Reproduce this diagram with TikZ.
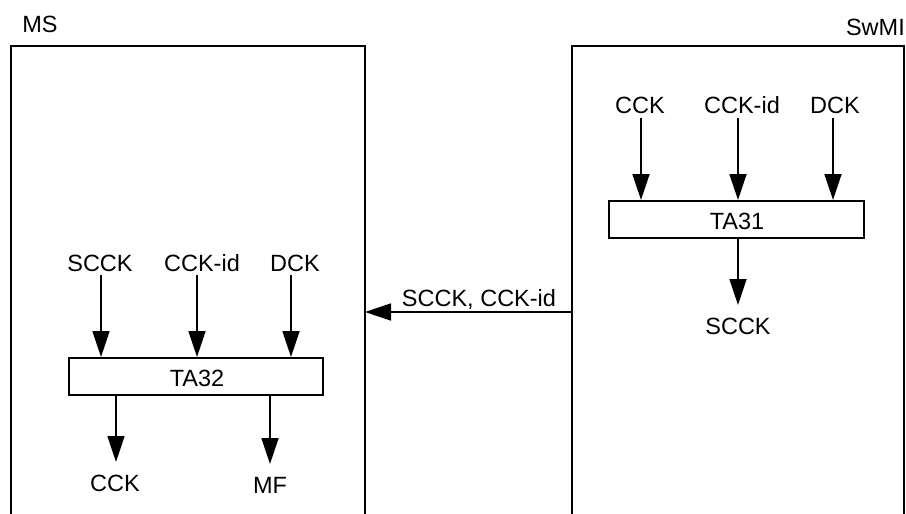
\documentclass[tikz,border=0pt]{standalone}
\usepackage{fontspec}
\setmainfont{Liberation Sans}
\usetikzlibrary{arrows.meta}
\begin{document}
\begin{tikzpicture}[x=1pt,y=-1pt,
  lbl/.style={font=\fontsize{23.5}{26}\selectfont, inner sep=0pt, anchor=base},
  tabox/.style={draw, line width=1.8pt, inner sep=0pt, anchor=north west,
    font=\fontsize{23.5}{26}\selectfont},
  flow/.style={line width=1.8pt, -{Triangle[width=17pt,length=26pt]}},
  frameline/.style={line width=1.8pt}]
\useasboundingbox (0,0) rectangle (906,514);

% frames (open at bottom)
\coordinate (msbl) at (11,516);
\coordinate (mstl) at (11,46);
\coordinate (mstr) at (365,46);
\coordinate (msbr) at (365,516);
\draw[frameline] (msbl) -- (mstl) -- (mstr) -- (msbr);
\coordinate (swbl) at (572,516);
\coordinate (swtl) at (572,46);
\coordinate (swtr) at (904,46);
\coordinate (swbr) at (904,516);
\draw[frameline] (swbl) -- (swtl) -- (swtr) -- (swbr);

\node[lbl] (ms) at (40,32) {MS};
\node[lbl, anchor=base east] (swmi) at (905,35) {SwMI};

% SwMI side
\node[tabox, minimum width=255pt, minimum height=37pt] (ta31) at (608,200) {};
\node[lbl] (ta31t) at (737,229) {TA31};
\node[lbl] (ccka) at (640,113) {CCK};
\node[lbl] (cckida) at (742,113) {CCK-id};
\node[lbl] (dcka) at (835,113) {DCK};
\coordinate (a1s) at (641,118);
\coordinate (a2s) at (738,118);
\coordinate (a3s) at (833,118);
\draw[flow] (a1s) -- (a1s |- ta31.north);
\draw[flow] (a2s) -- (a2s |- ta31.north);
\draw[flow] (a3s) -- (a3s |- ta31.north);
\node[lbl] (sccka) at (738,334) {SCCK};
\coordinate (a4e) at (738,305);
\draw[flow] (a4e |- ta31.south) -- (a4e);

% transfer arrow
\coordinate (trs) at (572,312);
\coordinate (tre) at (365,312);
\draw[flow] (trs) -- (tre);
\node[lbl] (trl) at (479,306) {SCCK, CCK-id};

% MS side
\node[tabox, minimum width=254pt, minimum height=37pt] (ta32) at (68,357) {};
\node[lbl] (ta32t) at (197,386) {TA32};
\node[lbl] (scckb) at (100,271) {SCCK};
\node[lbl] (cckidb) at (202,271) {CCK-id};
\node[lbl] (dckb) at (295,271) {DCK};
\coordinate (b1s) at (101,275);
\coordinate (b2s) at (197,275);
\coordinate (b3s) at (291,275);
\draw[flow] (b1s) -- (b1s |- ta32.north);
\draw[flow] (b2s) -- (b2s |- ta32.north);
\draw[flow] (b3s) -- (b3s |- ta32.north);
\coordinate (b4e) at (116,462);
\coordinate (b5e) at (270,464);
\draw[flow] (b4e |- ta32.south) -- (b4e);
\draw[flow] (b5e |- ta32.south) -- (b5e);
\node[lbl] (cckb) at (115,491) {CCK};
\node[lbl] (mfb) at (270,493) {MF};
\end{tikzpicture}
\end{document}
